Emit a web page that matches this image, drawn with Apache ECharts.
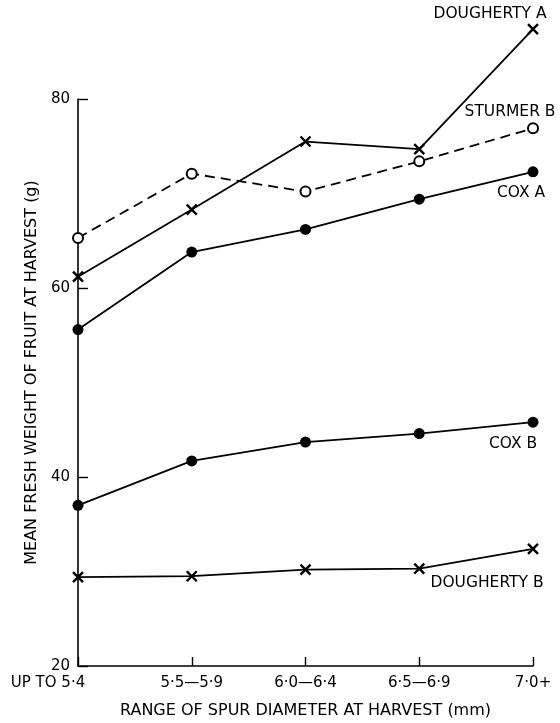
<!DOCTYPE html>
<html>
<head>
<meta charset="utf-8">
<script src="https://cdn.jsdelivr.net/npm/echarts@6/dist/echarts.min.js"></script>
<style>html,body{margin:0;padding:0;background:#fff}#c{width:560px;height:723px}</style>
</head>
<body>
<div id="c"></div>
<script>
const categories = ['UP TO 5·4', '5·5—5·9', '6·0—6·4', '6·5—6·9', '7·0+'];
const doughertyA = [61.2, 68.3, 75.5, 74.7, 87.4];
const sturmerB = [65.3, 72.1, 70.2, 73.4, 76.9];
const coxA = [55.6, 63.8, 66.2, 69.4, 72.3];
const coxB = [37.0, 41.7, 43.7, 44.6, 45.8];
const doughertyB = [29.4, 29.5, 30.2, 30.3, 32.4];
const yTicks = [20, 40, 60, 80];

const FONT = 'DejaVu Sans';
const black = '#000';
const crossPath = 'path://M0,0L10,10M10,0L0,10';

function withEndLabel(values, name, offset) {
  return values.map((v, i) => i === values.length - 1 ? {
    value: v,
    label: { show: true, formatter: name, position: 'inside', offset: offset,
      color: black, fontFamily: FONT, fontSize: 15.5, align: 'center', verticalAlign: 'middle' }
  } : v);
}

function series(name, values, kind, dashed, offset) {
  const s = {
    name: name, type: 'line', clip: false, animation: false,
    data: withEndLabel(values, name, offset),
    lineStyle: { color: black, width: 1.8, type: dashed ? [10, 6] : 'solid' },
    emphasis: { disabled: true },
    z: 3
  };
  if (kind === 'cross') {
    s.symbol = crossPath; s.symbolSize = 10;
    s.itemStyle = { color: 'none', borderColor: black, borderWidth: 2.4 };
  } else if (kind === 'filled') {
    s.symbol = 'circle'; s.symbolSize = 11;
    s.itemStyle = { color: black };
  } else {
    s.symbol = 'emptyCircle'; s.symbolSize = 10;
    s.itemStyle = { color: black, borderWidth: 1.6 };
  }
  s.showAllSymbol = true;
  return s;
}

const chart = echarts.init(document.getElementById('c'), null, { renderer: 'canvas' });
chart.setOption({
  backgroundColor: '#fff',
  animation: false,
  grid: { left: 78, right: 27, top: 99, bottom: 57, outerBoundsMode: 'none', containLabel: false },
  xAxis: {
    type: 'category', boundaryGap: false,
    data: categories.map((c, i) => i === 0 ? { value: c, textStyle: { padding: [0, 60, 0, 0] } } : c),
    axisLine: { lineStyle: { color: black, width: 1.6 } },
    axisTick: { inside: true, length: 9, lineStyle: { color: black, width: 1.4 } },
    axisLabel: { color: black, fontFamily: FONT, fontSize: 15, margin: 10, interval: 0 },
    splitLine: { show: false },
    name: 'RANGE OF SPUR DIAMETER AT HARVEST (mm)', nameLocation: 'middle', nameGap: 37,
    nameTextStyle: { color: black, fontFamily: FONT, fontSize: 16 }
  },
  yAxis: {
    type: 'value', min: yTicks[0], max: yTicks[yTicks.length - 1], interval: 20,
    axisLine: { show: true, lineStyle: { color: black, width: 1.6 } },
    axisTick: { show: true, inside: true, length: 10, lineStyle: { color: black, width: 1.4 } },
    axisLabel: { color: black, fontFamily: FONT, fontSize: 15, margin: 8 },
    splitLine: { show: false },
    name: 'MEAN FRESH WEIGHT OF FRUIT AT HARVEST (g)', nameLocation: 'middle', nameGap: 35,
    nameRotate: 90,
    nameTextStyle: { color: black, fontFamily: FONT, fontSize: 16, padding: [0, 0, 0, 20] }
  },
  series: [
    series('DOUGHERTY A', doughertyA, 'cross', false, [-43, -15]),
    series('STURMER B', sturmerB, 'open', true, [-23, -16]),
    series('COX A', coxA, 'filled', false, [-12, 21]),
    series('COX B', coxB, 'filled', false, [-20, 22]),
    series('DOUGHERTY B', doughertyB, 'cross', false, [-46, 34])
  ]
});
</script>
</body>
</html>
